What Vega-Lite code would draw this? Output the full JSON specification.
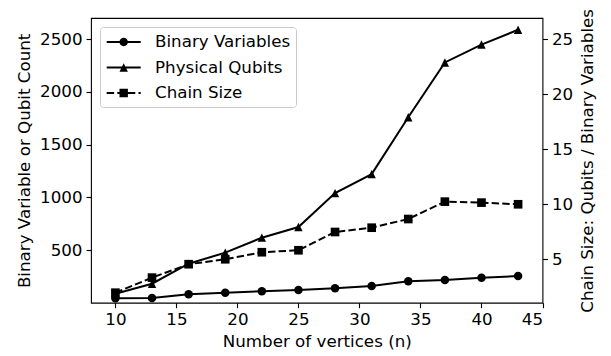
{
  "$schema": "https://vega.github.io/schema/vega-lite/v6.json",
  "width": 451.5,
  "height": 284.7,
  "autosize": "none",
  "padding": {"left": 91, "top": 18, "right": 68.5, "bottom": 53.3},
  "background": "white",
  "config": {
    "font": "DejaVu Sans",
    "view": {"stroke": "black", "strokeWidth": 1.1},
    "axis": {
      "grid": false,
      "domain": false,
      "tickColor": "black",
      "tickSize": 5,
      "tickWidth": 1.1,
      "labelFont": "DejaVu Sans",
      "labelFontSize": 16.7,
      "labelColor": "black",
      "labelPadding": 4,
      "titleFont": "DejaVu Sans",
      "titleFontSize": 16.7,
      "titleFontWeight": "normal",
      "titleColor": "black"
    },
    "legend": {
      "labelFont": "DejaVu Sans",
      "labelFontSize": 16.7,
      "labelColor": "black"
    }
  },
  "data": {
    "values": [
      {"n": 10, "series": "Binary Variables", "value": 42},
      {"n": 13, "series": "Binary Variables", "value": 45},
      {"n": 16, "series": "Binary Variables", "value": 80},
      {"n": 19, "series": "Binary Variables", "value": 95},
      {"n": 22, "series": "Binary Variables", "value": 108},
      {"n": 25, "series": "Binary Variables", "value": 120},
      {"n": 28, "series": "Binary Variables", "value": 137},
      {"n": 31, "series": "Binary Variables", "value": 158},
      {"n": 34, "series": "Binary Variables", "value": 203},
      {"n": 37, "series": "Binary Variables", "value": 215},
      {"n": 40, "series": "Binary Variables", "value": 237},
      {"n": 43, "series": "Binary Variables", "value": 253},
      {"n": 10, "series": "Physical Qubits", "value": 85},
      {"n": 13, "series": "Physical Qubits", "value": 180},
      {"n": 16, "series": "Physical Qubits", "value": 370},
      {"n": 19, "series": "Physical Qubits", "value": 475},
      {"n": 22, "series": "Physical Qubits", "value": 617},
      {"n": 25, "series": "Physical Qubits", "value": 718},
      {"n": 28, "series": "Physical Qubits", "value": 1040},
      {"n": 31, "series": "Physical Qubits", "value": 1220},
      {"n": 34, "series": "Physical Qubits", "value": 1760},
      {"n": 37, "series": "Physical Qubits", "value": 2280},
      {"n": 40, "series": "Physical Qubits", "value": 2450},
      {"n": 43, "series": "Physical Qubits", "value": 2590},
      {"n": 10, "series": "Chain Size", "value": 1.96},
      {"n": 13, "series": "Chain Size", "value": 3.33},
      {"n": 16, "series": "Chain Size", "value": 4.55},
      {"n": 19, "series": "Chain Size", "value": 5.0},
      {"n": 22, "series": "Chain Size", "value": 5.64},
      {"n": 25, "series": "Chain Size", "value": 5.82},
      {"n": 28, "series": "Chain Size", "value": 7.48},
      {"n": 31, "series": "Chain Size", "value": 7.87},
      {"n": 34, "series": "Chain Size", "value": 8.66},
      {"n": 37, "series": "Chain Size", "value": 10.24},
      {"n": 40, "series": "Chain Size", "value": 10.15},
      {"n": 43, "series": "Chain Size", "value": 10.0}
    ]
  },
  "encoding": {
    "x": {
      "field": "n",
      "type": "quantitative",
      "scale": {"domain": [8, 45], "nice": false, "zero": false},
      "axis": {"values": [10, 15, 20, 25, 30, 35, 40, 45], "format": "d", "title": "Number of vertices (n)", "titlePadding": 5}
    }
  },
  "layer": [
    {
      "transform": [{"filter": "datum.series !== 'Chain Size'"}],
      "encoding": {
        "y": {
          "field": "value",
          "type": "quantitative",
          "scale": {"domain": [0, 2702], "nice": false, "zero": false},
          "axis": {"orient": "left", "values": [500, 1000, 1500, 2000, 2500], "format": "d", "title": "Binary Variable or Qubit Count", "titlePadding": 6}
        }
      },
      "layer": [
        {"mark": {"type": "line", "color": "black", "strokeWidth": 2}, "encoding": {"detail": {"field": "series"}}},
        {"transform": [{"filter": "datum.series === 'Binary Variables'"}], "mark": {"type": "point", "shape": "circle", "filled": true, "color": "black", "opacity": 1, "size": 72}},
        {"transform": [{"filter": "datum.series === 'Physical Qubits'"}], "mark": {"type": "point", "shape": "M0,-1L1,1L-1,1Z", "filled": true, "color": "black", "opacity": 1, "size": 70}}
      ]
    },
    {
      "transform": [{"filter": "datum.series === 'Chain Size'"}],
      "encoding": {
        "y": {
          "field": "value",
          "type": "quantitative",
          "scale": {"domain": [1.05, 26.94], "nice": false, "zero": false},
          "axis": {"orient": "right", "values": [5, 10, 15, 20, 25], "format": "d", "title": "Chain Size: Qubits / Binary Variables", "titleAngle": 270, "titleBaseline": "top", "titlePadding": 7}
        }
      },
      "layer": [
        {"mark": {"type": "line", "color": "black", "strokeWidth": 2, "strokeDash": [7.4, 3.2]}, "encoding": {}},
        {"mark": {"type": "point", "shape": "square", "filled": true, "color": "black", "opacity": 1, "size": 75}}
      ]
    },
    {
      "transform": [{"filter": "false"}],
      "mark": {"type": "point", "filled": true, "color": "black", "opacity": 1, "size": 400},
      "encoding": {
        "shape": {
          "field": "series",
          "type": "nominal",
          "scale": {
            "domain": ["Binary Variables", "Physical Qubits", "Chain Size"],
            "range": [
              "M-0.83,-0.1H2.57V0.1H-0.83Z M1.29,0A0.42,0.42 0 1,1 0.45,0A0.42,0.42 0 1,1 1.29,0Z",
              "M-0.83,-0.1H2.57V0.1H-0.83Z M0.87,-0.42L1.29,0.42L0.45,0.42Z",
              "M-0.83,-0.1H-0.09V0.1H-0.83Z M0.23,-0.1H0.97V0.1H0.23Z M1.29,-0.1H2.03V0.1H1.29Z M2.35,-0.1H2.57V0.1H2.35Z M0.45,-0.42H1.29V0.42H0.45Z"
            ]
          },
          "legend": {
            "title": null,
            "orient": "none",
            "legendX": 9,
            "legendY": 9,
            "symbolSize": 400,
            "symbolFillColor": "black",
            "symbolStrokeWidth": 0,
            "symbolOpacity": 1,
            "strokeColor": "#cccccc",
            "fillColor": "white",
            "cornerRadius": 3,
            "padding": 5,
            "rowPadding": 6.5,
            "labelOffset": 30
          }
        }
      }
    }
  ],
  "resolve": {"scale": {"y": "independent"}}
}
